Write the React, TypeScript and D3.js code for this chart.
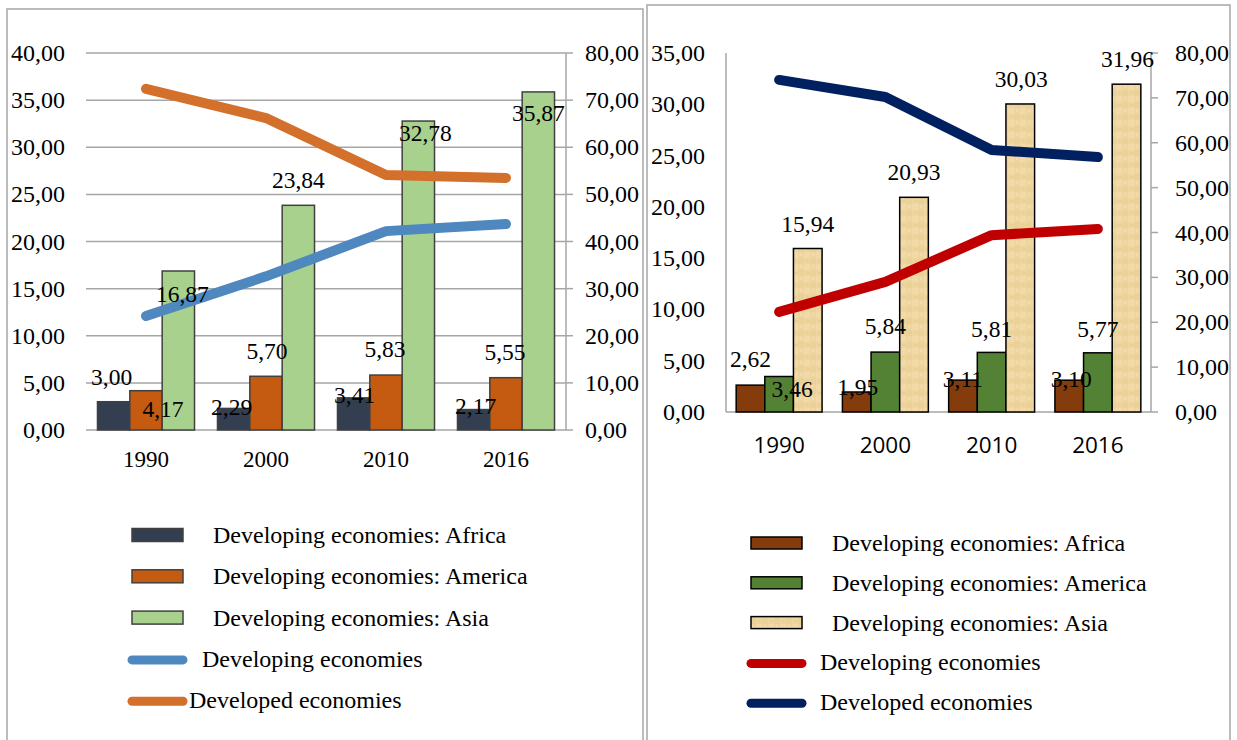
import React from "react";
import * as d3 from "d3";

// ---------- DATA ----------
const years = ["1990", "2000", "2010", "2016"];

// Left chart
const leftAfrica = [3.0, 2.29, 3.41, 2.17];
const leftAmerica = [4.17, 5.7, 5.83, 5.55];
const leftAsia = [16.87, 23.84, 32.78, 35.87];
const leftDeveloping = [24.2, 32.6, 42.2, 43.7];
const leftDeveloped = [72.4, 66.2, 54.1, 53.5];
const leftTicksL = [0, 5, 10, 15, 20, 25, 30, 35, 40];
const leftTicksR = [0, 10, 20, 30, 40, 50, 60, 70, 80];

// Right chart
const rightAfrica = [2.62, 1.95, 3.11, 3.1];
const rightAmerica = [3.46, 5.84, 5.81, 5.77];
const rightAsia = [15.94, 20.93, 30.03, 31.96];
const rightDeveloping = [22.3, 29.0, 39.4, 40.8];
const rightDeveloped = [74.0, 70.2, 58.4, 56.8];
const rightTicksL = [0, 5, 10, 15, 20, 25, 30, 35];
const rightTicksR = [0, 10, 20, 30, 40, 50, 60, 70, 80];

const barNames = [
  "Developing economies: Africa",
  "Developing economies: America",
  "Developing economies: Asia",
];
const lineNames = ["Developing economies", "Developed economies"];

// label offsets (dx, dy of baseline relative to bar top)
const leftLabelOff = [
  [[-2, -17], [-2, 7], [1, 5], [2, 4]],
  [[17, 26], [1, -17], [-1, -18], [-1, -18]],
  [[4, 31], [0, -17], [7, 20], [0, 29]],
];
const rightLabelOff = [
  [[0, -18], [1, 3], [0, 7], [2, 7]],
  [[13, 20], [0, -18], [0, -15], [0, -16]],
  [[0, -17], [0, -17], [1, -17], [1, -17]],
];

const fmt = (v: number) => v.toFixed(2).replace(".", ",");
const SERIF = "'Liberation Serif', 'Times New Roman', Times, serif";
const SANS = "'Open Sans', 'Liberation Sans', sans-serif";
const serifStyle = { fontFamily: SERIF };

type PanelCfg = {
  x0: number; x1: number; yTop: number; yBase: number;
  maxL: number; maxR: number;
  bars: number[][]; lines: number[][];
  ticksL: number[]; ticksR: number[];
  barColors: string[]; barStroke: string; lineColors: string[];
  labelOff: number[][][];
  grid: boolean; leftAxisLine: boolean;
  xLabelY: number; xLabelFont: string; xLabelSize: number;
  tickLX: number; tickRX: number;
};

function Panel({ c }: { c: PanelCfg }) {
  const x = d3.scaleBand().domain(years).range([c.x0, c.x1]).paddingInner(0).paddingOuter(0);
  const sub = d3.scaleBand().domain(["0", "1", "2"]).range([0, x.bandwidth()]).paddingInner(0).paddingOuter(0.355);
  const yL = d3.scaleLinear().domain([0, c.maxL]).range([c.yBase, c.yTop]);
  const yR = d3.scaleLinear().domain([0, c.maxR]).range([c.yBase, c.yTop]);
  const line = d3.line<number>()
    .x((_, i) => (x(years[i]) as number) + x.bandwidth() / 2)
    .y((d) => yR(d));
  const grey = "#a6a6a6";
  return (
    <g>
      {c.grid && c.ticksL.map((t) => (
        <line key={"g" + t} x1={c.x0} x2={c.x1} y1={yL(t)} y2={yL(t)} stroke={grey} strokeWidth={1.5} />
      ))}
      {!c.grid && (
        <line x1={c.x0} x2={c.x1} y1={c.yBase} y2={c.yBase} stroke={grey} strokeWidth={1.5} />
      )}
      {c.leftAxisLine && (
        <line x1={c.x0} x2={c.x0} y1={c.yTop} y2={c.yBase} stroke={grey} strokeWidth={1.5} />
      )}
      <line x1={c.x1} x2={c.x1} y1={c.yTop} y2={c.yBase} stroke={grey} strokeWidth={1.5} />
      {c.ticksR.map((t) => (
        <line key={"tr" + t} x1={c.x1} x2={c.x1 + 7} y1={yR(t)} y2={yR(t)} stroke={grey} strokeWidth={1.5} />
      ))}
      {c.ticksL.map((t) => (
        <text key={"tl" + t} x={c.tickLX} y={yL(t) + 8} textAnchor="end" style={serifStyle} fontSize={24} fill="#000">
          {fmt(t)}
        </text>
      ))}
      {c.ticksR.map((t) => (
        <text key={"trl" + t} x={c.tickRX} y={yR(t) + 8} textAnchor="start" style={serifStyle} fontSize={24} fill="#000">
          {fmt(t)}
        </text>
      ))}
      {years.map((yr) => (
        <text key={"x" + yr} x={(x(yr) as number) + x.bandwidth() / 2} y={c.xLabelY} textAnchor="middle"
          style={{ fontFamily: c.xLabelFont }} fontSize={c.xLabelSize} fill="#000">{yr}</text>
      ))}
      {c.bars.map((series, s) =>
        series.map((v, i) => {
          const bx = (x(years[i]) as number) + (sub(String(s)) as number);
          return (
            <rect key={"b" + s + i} x={bx} y={yL(v)} width={sub.bandwidth()} height={c.yBase - yL(v)}
              fill={c.barColors[s]} stroke={c.barStroke} strokeWidth={1.5} />
          );
        })
      )}
      {c.lines.map((series, s) => (
        <path key={"l" + s} d={line(series) as string} fill="none" stroke={c.lineColors[s]}
          strokeWidth={10} strokeLinecap="round" strokeLinejoin="round" />
      ))}
      {c.bars.map((series, s) =>
        series.map((v, i) => {
          const cx = (x(years[i]) as number) + (sub(String(s)) as number) + sub.bandwidth() / 2;
          const [dx, dy] = c.labelOff[s][i];
          return (
            <text key={"lb" + s + i} x={cx + dx} y={yL(v) + dy} textAnchor="middle" style={serifStyle}
              fontSize={23.5} fill="#000">{fmt(v)}</text>
          );
        })
      )}
    </g>
  );
}

function Legend({ x, y0, step, barColors, barStroke, lineColors, textXBars, textXLines, swatchW, swatchH }: any) {
  const items: any[] = [];
  barNames.forEach((n, i) => {
    const by = y0 + i * step;
    items.push(
      <g key={"lb" + i}>
        <rect x={x} y={by - 8 - swatchH / 2} width={swatchW} height={swatchH}
          fill={barColors[i]} stroke={barStroke} strokeWidth={1.5} />
        <text x={textXBars} y={by} style={serifStyle} fontSize={24} fill="#000">{n}</text>
      </g>
    );
  });
  lineNames.forEach((n, i) => {
    const by = y0 + (i + 3) * step;
    items.push(
      <g key={"ll" + i}>
        <line x1={x} x2={x + swatchW} y1={by - 7} y2={by - 7} stroke={lineColors[i]} strokeWidth={9} strokeLinecap="round" />
        <text x={textXLines[i]} y={by} style={serifStyle} fontSize={24} fill="#000">{n}</text>
      </g>
    );
  });
  return <g>{items}</g>;
}

export default function App() {
  const leftCfg: PanelCfg = {
    x0: 86, x1: 566, yTop: 53, yBase: 430, maxL: 40, maxR: 80,
    bars: [leftAfrica, leftAmerica, leftAsia], lines: [leftDeveloping, leftDeveloped],
    ticksL: leftTicksL, ticksR: leftTicksR,
    barColors: ["#333f50", "#c55a11", "#a9d18e"], barStroke: "#404040",
    lineColors: ["#4f88bf", "#d3702b"], labelOff: leftLabelOff,
    grid: true, leftAxisLine: false,
    xLabelY: 467, xLabelFont: SERIF, xLabelSize: 23, tickLX: 65, tickRX: 585,
  };
  const rightCfg: PanelCfg = {
    x0: 726, x1: 1151, yTop: 53, yBase: 412, maxL: 35, maxR: 80,
    bars: [rightAfrica, rightAmerica, rightAsia], lines: [rightDeveloping, rightDeveloped],
    ticksL: rightTicksL, ticksR: rightTicksR,
    barColors: ["#843c0c", "#548235", "url(#papyrus)"], barStroke: "#000",
    lineColors: ["#c00000", "#002060"], labelOff: rightLabelOff,
    grid: false, leftAxisLine: true,
    xLabelY: 453, xLabelFont: SANS, xLabelSize: 22.5, tickLX: 705, tickRX: 1175,
  };
  return (
    <div style={{ position: "absolute", left: 0, top: 0, width: 1237, height: 740, background: "#fff" }}>
      <svg width={1237} height={740} viewBox="0 0 1237 740" style={{ display: "block" }}>
        <defs>
          <pattern id="papyrus" patternUnits="userSpaceOnUse" width={12} height={12}>
            <rect width={12} height={12} fill="#eed59f" />
            <rect x={0} y={0} width={6} height={6} fill="#f1daa8" />
            <rect x={6} y={6} width={6} height={6} fill="#ead198" />
            <rect x={2} y={8} width={3} height={2} fill="#e6cb90" opacity={0.6} />
            <rect x={8} y={1} width={2} height={3} fill="#f4e0b3" opacity={0.7} />
          </pattern>
        </defs>
        <rect x={0} y={0} width={1237} height={740} fill="#fff" />
        <path d="M7,742 L7,9 L643,9 L643,742" fill="none" stroke="#a6a6a6" strokeWidth={1.5} />
        <path d="M647,742 L647,5 L1230,5 L1230,742" fill="none" stroke="#a6a6a6" strokeWidth={1.5} />
        <Panel c={leftCfg} />
        <Panel c={rightCfg} />
        <Legend x={132} y0={543} step={41.3} barColors={leftCfg.barColors} barStroke="#404040"
          lineColors={leftCfg.lineColors} textXBars={213} textXLines={[202, 189]} swatchW={51} swatchH={13} />
        <Legend x={751} y0={551} step={39.8} barColors={rightCfg.barColors} barStroke="#000"
          lineColors={rightCfg.lineColors} textXBars={832} textXLines={[820, 820]} swatchW={51} swatchH={12} />
      </svg>
    </div>
  );
}
